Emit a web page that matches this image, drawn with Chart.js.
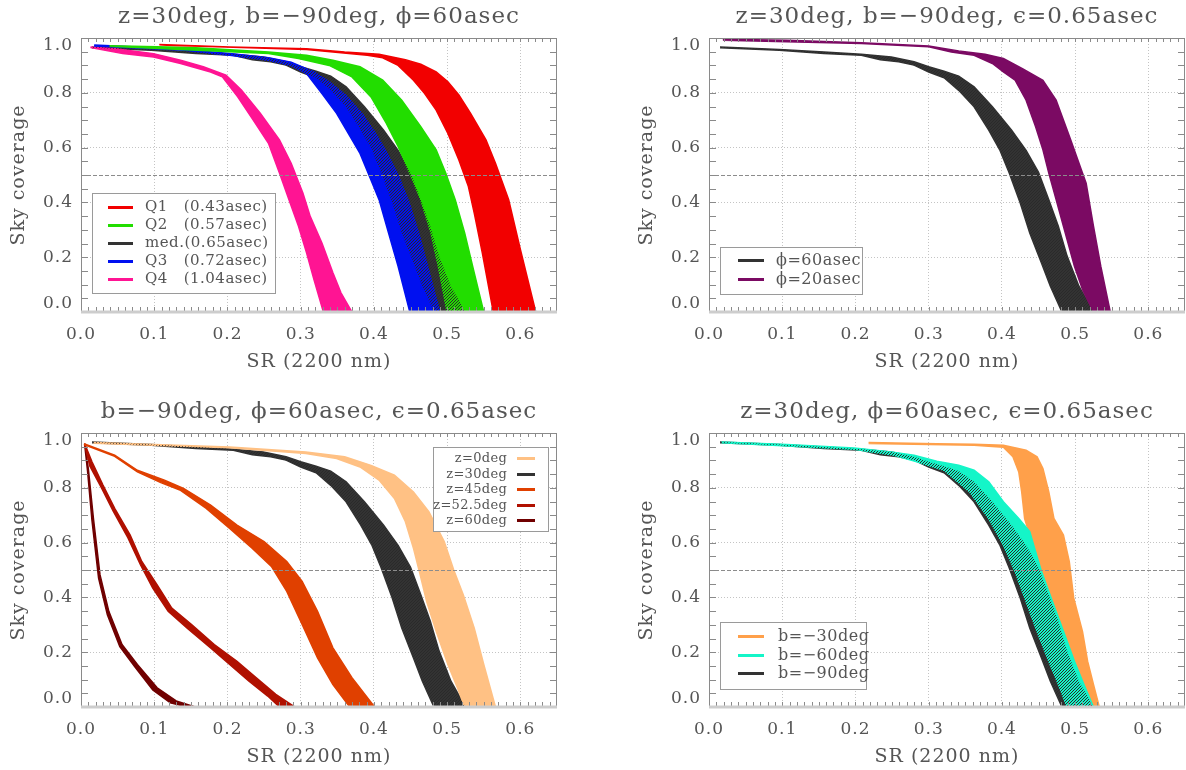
<!DOCTYPE html>
<html>
<head>
<meta charset="utf-8">
<script src="https://cdn.jsdelivr.net/npm/chart.js@4.4.1/dist/chart.umd.min.js"></script>
<style>
  html, body { margin: 0; padding: 0; background: #fff; width: 1186px; height: 770px; overflow: hidden; }
  canvas { position: absolute; }
</style>
</head>
<body>
<canvas id="c1" width="628" height="385" style="left:0px;top:0px"></canvas>
<canvas id="c2" width="558" height="385" style="left:628px;top:0px"></canvas>
<canvas id="c3" width="628" height="385" style="left:0px;top:395px"></canvas>
<canvas id="c4" width="558" height="385" style="left:628px;top:395px"></canvas>
<script>
// each band = [SR, sky coverage] along the upper (right) edge and the lower (left) edge

// top left: seeing quartiles
let q1Upper = [[0.107,0.976],[0.203,0.967],[0.308,0.961],[0.360,0.949],[0.407,0.941],[0.443,0.921],[0.464,0.904],[0.485,0.876],[0.501,0.840],[0.516,0.792],[0.532,0.725],[0.553,0.628],[0.566,0.543],[0.584,0.410],[0.600,0.228],[0.621,0.0]];
let q1Lower = [[0.107,0.974],[0.308,0.958],[0.391,0.937],[0.412,0.928],[0.433,0.900],[0.454,0.846],[0.469,0.798],[0.485,0.737],[0.501,0.652],[0.516,0.555],[0.529,0.458],[0.537,0.361],[0.548,0.216],[0.563,0.0]];
let q2Upper = [[0.039,0.972],[0.151,0.965],[0.256,0.949],[0.308,0.937],[0.344,0.919],[0.381,0.895],[0.412,0.846],[0.438,0.773],[0.464,0.676],[0.485,0.592],[0.498,0.507],[0.511,0.410],[0.524,0.288],[0.537,0.143],[0.550,0.0]];
let q2Lower = [[0.039,0.970],[0.256,0.943],[0.297,0.925],[0.339,0.900],[0.370,0.858],[0.396,0.785],[0.417,0.688],[0.433,0.604],[0.449,0.507],[0.464,0.410],[0.478,0.288],[0.488,0.167],[0.495,0.070],[0.500,0.0]];
let medUpper = [[0.015,0.967],[0.096,0.958],[0.157,0.949],[0.208,0.941],[0.249,0.931],[0.280,0.913],[0.300,0.895],[0.321,0.879],[0.341,0.861],[0.362,0.822],[0.387,0.749],[0.413,0.664],[0.433,0.590],[0.450,0.510],[0.464,0.410],[0.477,0.313],[0.489,0.204],[0.505,0.095],[0.525,0.0]];
let medLower = [[0.015,0.964],[0.096,0.955],[0.157,0.943],[0.208,0.937],[0.234,0.921],[0.259,0.913],[0.280,0.901],[0.300,0.876],[0.321,0.855],[0.341,0.809],[0.362,0.749],[0.382,0.664],[0.397,0.592],[0.410,0.507],[0.425,0.398],[0.438,0.288],[0.454,0.179],[0.466,0.095],[0.482,0.0]];
let q3Upper = [[0.018,0.974],[0.099,0.964],[0.141,0.958],[0.203,0.943],[0.256,0.928],[0.287,0.912],[0.318,0.876],[0.339,0.840],[0.362,0.790],[0.385,0.720],[0.405,0.640],[0.422,0.560],[0.433,0.500],[0.448,0.400],[0.462,0.280],[0.475,0.150],[0.490,0.0]];
let q3Lower = [[0.018,0.971],[0.141,0.955],[0.203,0.937],[0.256,0.919],[0.287,0.900],[0.308,0.870],[0.329,0.797],[0.349,0.725],[0.365,0.652],[0.381,0.579],[0.394,0.495],[0.407,0.410],[0.420,0.288],[0.433,0.167],[0.449,0.0]];
let q4Upper = [[0.013,0.967],[0.047,0.961],[0.099,0.943],[0.136,0.919],[0.167,0.895],[0.198,0.864],[0.219,0.810],[0.245,0.725],[0.271,0.628],[0.287,0.543],[0.303,0.434],[0.313,0.349],[0.329,0.252],[0.344,0.143],[0.355,0.070],[0.370,0.0]];
let q4Lower = [[0.013,0.965],[0.057,0.943],[0.099,0.931],[0.136,0.907],[0.177,0.876],[0.193,0.858],[0.214,0.785],[0.235,0.701],[0.256,0.616],[0.271,0.507],[0.284,0.410],[0.297,0.313],[0.308,0.216],[0.318,0.119],[0.331,0.0]];

// top right: NGS field radius
let phi20Upper = [[0.019,0.995],[0.106,0.992],[0.208,0.983],[0.300,0.971],[0.341,0.953],[0.377,0.941],[0.402,0.925],[0.428,0.888],[0.456,0.846],[0.474,0.773],[0.494,0.628],[0.510,0.507],[0.515,0.470],[0.525,0.313],[0.535,0.167],[0.548,0.0]];
let phi20Lower = [[0.019,0.992],[0.208,0.980],[0.300,0.968],[0.331,0.949],[0.362,0.937],[0.387,0.907],[0.402,0.876],[0.418,0.846],[0.433,0.773],[0.446,0.676],[0.456,0.592],[0.464,0.507],[0.474,0.410],[0.484,0.313],[0.499,0.167],[0.510,0.082],[0.525,0.0]];

// bottom left: zenith angle
let z0Upper = [[0.017,0.965],[0.203,0.949],[0.307,0.931],[0.360,0.913],[0.396,0.882],[0.428,0.846],[0.454,0.785],[0.475,0.713],[0.496,0.604],[0.509,0.500],[0.522,0.410],[0.537,0.288],[0.550,0.155],[0.566,0.0]];
let z0Lower = [[0.017,0.963],[0.203,0.946],[0.307,0.925],[0.349,0.907],[0.381,0.876],[0.407,0.828],[0.428,0.761],[0.443,0.676],[0.454,0.579],[0.462,0.495],[0.472,0.385],[0.485,0.276],[0.501,0.155],[0.514,0.070],[0.524,0.0]];
let z45Upper = [[0.004,0.961],[0.046,0.919],[0.077,0.864],[0.114,0.828],[0.140,0.798],[0.177,0.737],[0.213,0.664],[0.250,0.604],[0.281,0.531],[0.302,0.458],[0.323,0.349],[0.344,0.216],[0.370,0.107],[0.401,0.0]];
let z45Lower = [[0.004,0.958],[0.046,0.915],[0.077,0.858],[0.109,0.819],[0.135,0.792],[0.171,0.725],[0.203,0.652],[0.234,0.579],[0.260,0.513],[0.281,0.422],[0.302,0.301],[0.323,0.179],[0.344,0.082],[0.367,0.0]];
let z52Upper = [[0.005,0.961],[0.015,0.895],[0.030,0.810],[0.046,0.725],[0.067,0.628],[0.083,0.531],[0.104,0.446],[0.124,0.361],[0.151,0.301],[0.182,0.228],[0.213,0.167],[0.239,0.107],[0.266,0.046],[0.292,0.0]];
let z52Lower = [[0.005,0.958],[0.012,0.880],[0.028,0.800],[0.044,0.715],[0.064,0.618],[0.081,0.520],[0.098,0.434],[0.119,0.349],[0.145,0.288],[0.177,0.216],[0.203,0.155],[0.229,0.095],[0.255,0.040],[0.271,0.0]];
let z60Upper = [[0.005,0.961],[0.010,0.870],[0.017,0.688],[0.026,0.482],[0.038,0.349],[0.056,0.228],[0.077,0.155],[0.104,0.070],[0.130,0.022],[0.156,0.0]];
let z60Lower = [[0.005,0.958],[0.009,0.860],[0.015,0.680],[0.024,0.470],[0.036,0.337],[0.053,0.220],[0.074,0.145],[0.098,0.062],[0.122,0.015],[0.145,0.0]];

// bottom right: galactic latitude
let b30Upper = [[0.218,0.965],[0.311,0.961],[0.362,0.959],[0.402,0.955],[0.433,0.937],[0.448,0.913],[0.456,0.870],[0.464,0.785],[0.471,0.688],[0.484,0.628],[0.492,0.531],[0.498,0.398],[0.510,0.276],[0.517,0.167],[0.525,0.082],[0.533,0.0]];
let b30Lower = [[0.218,0.962],[0.362,0.955],[0.402,0.948],[0.415,0.913],[0.423,0.858],[0.427,0.785],[0.431,0.688],[0.438,0.628],[0.446,0.567],[0.454,0.495],[0.464,0.398],[0.474,0.288],[0.487,0.167],[0.499,0.070],[0.510,0.0]];
let b60Upper = [[0.017,0.967],[0.106,0.958],[0.198,0.945],[0.249,0.931],[0.280,0.919],[0.311,0.897],[0.341,0.882],[0.362,0.864],[0.382,0.822],[0.402,0.749],[0.423,0.688],[0.438,0.640],[0.446,0.567],[0.454,0.495],[0.469,0.385],[0.484,0.276],[0.499,0.167],[0.512,0.082],[0.525,0.0]];
let b60Lower = [[0.017,0.964],[0.198,0.941],[0.249,0.921],[0.285,0.894],[0.321,0.864],[0.356,0.785],[0.382,0.688],[0.402,0.591],[0.418,0.495],[0.433,0.385],[0.448,0.276],[0.464,0.167],[0.479,0.070],[0.489,0.0]];

let titles = [
  'z=30deg, b=\u221290deg, \u03d5=60asec',
  'z=30deg, b=\u221290deg, \u03f5=0.65asec',
  'b=\u221290deg, \u03d5=60asec, \u03f5=0.65asec',
  'z=30deg, \u03d5=60asec, \u03f5=0.65asec'
];

const FONT = "'DejaVu Serif', serif";
const TEXT = '#555';

// polygon = upper edge then lower edge back
function band(label, color, upper, lower, order) {
  return {
    label: label,
    order: order,
    data: upper.concat(lower.slice().reverse()).map(p => ({x: p[0], y: p[1]})),
    borderColor: color,
    backgroundColor: color,
    borderWidth: 1.5,
    fill: 'shape',
    pointRadius: 0,
    tension: 0
  };
}

// diagonal hatch used where the median band lies over another one
function hatchBand(ctx, upper, lower) {
  let tile = document.createElement('canvas');
  tile.width = 3; tile.height = 3;
  let g = tile.getContext('2d');
  g.fillStyle = '#2a2a2a';
  for (let i = 0; i < 3; i++) g.fillRect(i, 2 - i, 1, 1);
  return {
    label: '',
    order: 0,
    data: upper.concat(lower.slice().reverse()).map(p => ({x: p[0], y: p[1]})),
    borderWidth: 0,
    borderColor: 'rgba(0,0,0,0)',
    backgroundColor: ctx.createPattern(tile, 'repeat'),
    fill: 'shape',
    pointRadius: 0
  };
}

// the IDL fonts are set wide, add a little tracking to every text
const tracking = {
  id: 'tracking',
  beforeDraw(chart) { chart.ctx.letterSpacing = '1px'; }
};

// IDL style box: inward minor ticks, dashed 50% line
const idlFrame = {
  id: 'idlFrame',
  afterDatasetsDraw(chart) {
    const ctx = chart.ctx, a = chart.chartArea, x = chart.scales.x, y = chart.scales.y;
    ctx.save();
    let y5 = Math.round(y.getPixelForValue(0.5)) + 0.5;
    ctx.strokeStyle = '#8c8c8c';
    ctx.lineWidth = 1;
    ctx.setLineDash([4, 2]);
    ctx.beginPath(); ctx.moveTo(a.left, y5); ctx.lineTo(a.right, y5); ctx.stroke();
    ctx.setLineDash([]);
    ctx.strokeStyle = '#8a8a8a';
    ctx.beginPath();
    for (let i = 1; i < 65; i++) {
      let px = Math.round(x.getPixelForValue(i / 100)) + 0.5;
      ctx.moveTo(px, a.bottom); ctx.lineTo(px, a.bottom - 5);
      ctx.moveTo(px, a.top); ctx.lineTo(px, a.top + 4);
    }
    for (let j = 1; j < 20; j++) {
      let py = Math.round(y.getPixelForValue(j / 20)) + 0.5;
      ctx.moveTo(a.left, py); ctx.lineTo(a.left + 7, py);
      ctx.moveTo(a.right, py); ctx.lineTo(a.right - 7, py);
    }
    ctx.stroke();
    ctx.strokeRect(a.left + 0.5, a.top + 0.5, a.width - 1, a.height - 1);
    ctx.strokeStyle = '#cdcdcd';
    ctx.lineWidth = 3;
    ctx.beginPath(); ctx.moveTo(a.left, a.bottom); ctx.lineTo(a.right, a.bottom); ctx.stroke();
    ctx.restore();
  }
};

// boxed legend with line samples, like the IDL one
const boxLegend = {
  id: 'boxLegend',
  afterDraw(chart, args, o) {
    if (!o.box) return;
    const ctx = chart.ctx;
    let items = chart.data.datasets.filter(d => d.label);
    ctx.save();
    ctx.fillStyle = '#fff';
    ctx.fillRect(o.box[0], o.box[1], o.box[2], o.box[3]);
    ctx.strokeStyle = '#9a9a9a';
    ctx.lineWidth = 1;
    ctx.strokeRect(o.box[0] + 0.5, o.box[1] + 0.5, o.box[2], o.box[3]);
    ctx.font = o.size + 'px ' + FONT;
    ctx.letterSpacing = o.spacing || '0px';
    ctx.textBaseline = 'middle';
    ctx.textAlign = o.align;
    items.forEach((d, i) => {
      let yy = Math.round(o.row0 + i * o.step) + 0.5;
      ctx.strokeStyle = d.borderColor;
      ctx.lineWidth = 3;
      ctx.beginPath(); ctx.moveTo(o.line[0], yy); ctx.lineTo(o.line[1], yy); ctx.stroke();
      ctx.fillStyle = TEXT;
      ctx.fillText(d.label, o.textX, yy);
    });
    ctx.restore();
  }
};

function makePanel(id, title, buildDatasets, legend) {
  let canvas = document.getElementById(id);
  let ctx = canvas.getContext('2d');
  let W = canvas.width;
  new Chart(ctx, {
    type: 'line',
    data: { datasets: buildDatasets(ctx) },
    options: {
      responsive: false,
      animation: false,
      devicePixelRatio: 1,
      events: [],
      layout: { padding: { left: 0, right: W - 557, top: 0, bottom: 0 } },
      scales: {
        x: {
          type: 'linear', min: 0, max: 0.65,
          grid: { color: '#c4c4c4', lineWidth: 1, drawTicks: false },
          border: { display: false, dash: [1, 2] },
          ticks: {
            stepSize: 0.1, includeBounds: false, autoSkip: false, maxRotation: 0,
            padding: 12, color: TEXT, font: { family: FONT, size: 17 },
            callback: v => v.toFixed(1)
          },
          title: { display: true, text: 'SR (2200 nm)', color: TEXT,
                   font: { family: FONT, size: 19 }, padding: { top: 0, bottom: 12 } },
          afterFit: s => { s.height = 73; }
        },
        y: {
          type: 'linear', min: 0, max: 1,
          grid: { color: '#c4c4c4', lineWidth: 1, drawTicks: false },
          border: { display: false, dash: [1, 2] },
          ticks: {
            stepSize: 0.2, padding: 8, color: TEXT,
            font: { family: FONT, size: 17, lineHeight: '16px' },
            // end labels sit inside the box, as in the IDL plot
            callback: v => Math.abs(v - 1) < 1e-9 ? ['', '1.0'] : (Math.abs(v) < 1e-9 ? ['0.0', ''] : v.toFixed(1))
          },
          title: { display: true, text: 'Sky coverage', color: TEXT,
                   font: { family: FONT, size: 19 }, padding: { top: 8, bottom: 0 } },
          afterFit: s => { s.width = 81; }
        }
      },
      plugins: {
        legend: { display: false },
        tooltip: { enabled: false },
        title: {
          display: true, text: title, color: TEXT, fullSize: false,
          font: { family: FONT, size: 23, weight: 'normal', lineHeight: '24px' },
          padding: { top: 5, bottom: 9 }
        },
        boxLegend: legend
      }
    },
    plugins: [tracking, idlFrame, boxLegend]
  });
}

makePanel('c1', titles[0], ctx => [
  band('Q1   (0.43asec)', '#f20000', q1Upper, q1Lower, 1),
  band('Q2   (0.57asec)', '#22dd00', q2Upper, q2Lower, 1),
  band('med.(0.65asec)', '#333333', medUpper, medLower, 5),
  band('Q3   (0.72asec)', '#0010f0', q3Upper, q3Lower, 1),
  band('Q4   (1.04asec)', '#ff1493', q4Upper, q4Lower, 1),
  hatchBand(ctx, medUpper, medLower)
], { box: [92, 193, 183, 100], line: [108, 133], textX: 145, row0: 207, step: 18, size: 15, spacing: '0.5px', align: 'left' });

makePanel('c2', titles[1], ctx => [
  band('\u03d5=60asec', '#333333', medUpper, medLower, 5),
  band('\u03d5=20asec', '#7b0a63', phi20Upper, phi20Lower, 1),
  hatchBand(ctx, medUpper, medLower)
], { box: [92, 247, 142, 47], line: [110, 136], textX: 148, row0: 260, step: 19.3, size: 16, spacing: '0.5px', align: 'left' });

makePanel('c3', titles[2], ctx => [
  band('z=0deg', '#ffc184', z0Upper, z0Lower, 1),
  band('z=30deg', '#333333', medUpper, medLower, 5),
  band('z=45deg', '#e04000', z45Upper, z45Lower, 1),
  band('z=52.5deg', '#b01000', z52Upper, z52Lower, 1),
  band('z=60deg', '#700000', z60Upper, z60Lower, 1),
  hatchBand(ctx, medUpper, medLower)
], { box: [433, 52, 115, 84], line: [517, 535], textX: 507, row0: 63, step: 15.5, size: 13, spacing: '0.3px', align: 'right' });

makePanel('c4', titles[3], ctx => [
  band('b=\u221230deg', '#ffa04a', b30Upper, b30Lower, 2),
  band('b=\u221260deg', '#14f5c8', b60Upper, b60Lower, 1),
  band('b=\u221290deg', '#333333', medUpper, medLower, 5),
  hatchBand(ctx, medUpper, medLower)
], { box: [92, 227, 146, 67], line: [110, 136], textX: 150, row0: 241, step: 18.5, size: 16, spacing: '0.5px', align: 'left' });
</script>
</body>
</html>
